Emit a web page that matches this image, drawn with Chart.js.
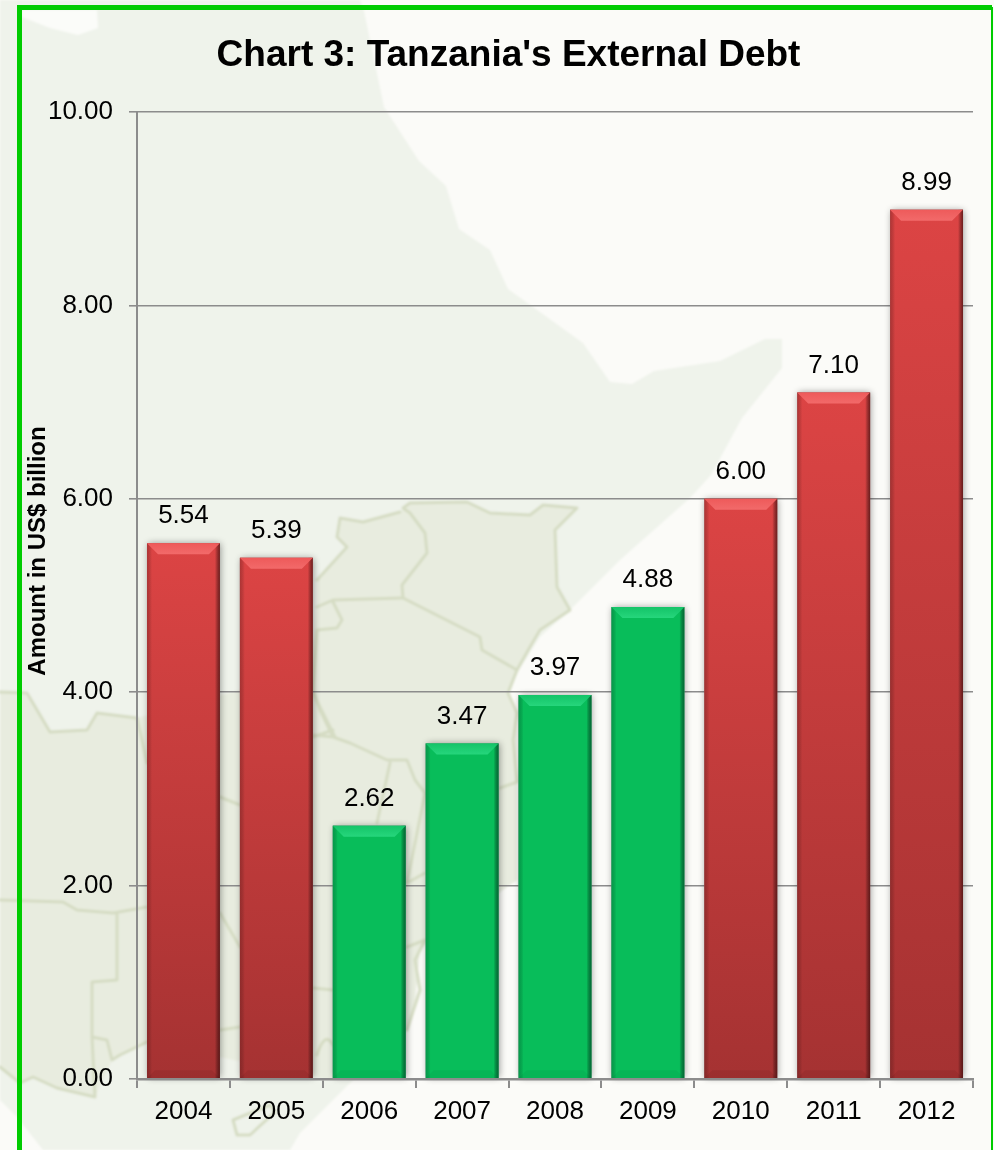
<!DOCTYPE html>
<html>
<head>
<meta charset="utf-8">
<title>Chart 3: Tanzania's External Debt</title>
<script src="https://cdn.jsdelivr.net/npm/chart.js@4"></script>
<style>
  html, body { margin: 0; padding: 0; background: #fbfbf8; }
  #wrap { position: relative; width: 994px; height: 1150px; overflow: hidden; }
  #map, #debtChart { position: absolute; left: 0; top: 0; }
  .border { fill: none; stroke: #d5dcc3; stroke-width: 3; stroke-linejoin: round; stroke-linecap: round; }
</style>
</head>
<body>
<div id="wrap">
  <!-- pale East Africa map behind the plot -->
  <svg id="map" width="994" height="1150" viewBox="0 0 994 1150">
    <defs><filter id="soft"><feGaussianBlur stdDeviation="1"/></filter></defs>
    <g filter="url(#soft)">
      <polygon fill="#eff3eb" points="0,0 360,0 364,11 384,107 419,161 446,186 459,229 490,250 508,289 583,343 610,382 632,384 654,371 720,361 765,339 782,339 782,368 742,418 711,475 690,498 620,560 570,610 540,637 517,673 508,693 517,713 517,880 500,892 440,930 420,950 415,1000 405,1030 350,1083 300,1133 290,1150 43,1150 17,1117 0,1100"/>
      <polygon fill="#fbfcf9" points="22,10 97,10 98,28 78,35 50,28 22,17"/>
      <polygon fill="#e8ecdf" points="0,692 27,693 50,732 87,730 97,713 137,718 240,690 313,640 317,607 317,580 347,547 337,537 340,518 363,522 400,512 410,503 467,502 490,513 530,515 543,505 577,508 555,530 557,587 570,610 540,630 530,647 517,670 508,693 517,713 517,880 500,892 440,930 420,950 415,1000 407,1030 330,1080 147,1042 120,1055 112,1060 95,1097 57,1088 33,1077 20,1083 0,1067"/>
      <!-- Kenya, Uganda, Tanzania -->
      <path class="border" d="M403,508 L410,503 L467,502 L490,513 L530,515 L543,505 L577,508 L555,530 L557,587 L570,610 L540,630 L530,647 L517,670 L482,650 L480,637 L403,598 L402,585 L427,553 L425,533 L410,513 Z"/>
      <path class="border" d="M402,598 L333,600 L317,607 M317,580 L347,547 L337,537 L340,518 L363,522 L400,512"/>
      <path class="border" d="M333,602 L342,620 L337,628 L317,630 L313,690 L320,710 L333,737 L350,743 L387,760 L407,760 L415,780 L425,793 M517,670 L508,693 L517,713 L513,740 L517,782 L500,788 M313,735 L333,737 M390,763 L377,823 M425,793 L407,883 M407,883 L425,873"/>
      <!-- neighbouring countries to the west and south -->
      <path class="border" d="M0,692 L27,693 L50,732 L87,730 L97,713 L137,718 L147,763"/>
      <path class="border" d="M0,900 L63,902 L77,910 L113,913 L147,907 M117,913 L117,980 L92,982 L92,1037 L107,1040 L112,1060 L120,1055 L147,1042 M92,1037 L95,1097 L57,1088 L33,1077 L20,1083 L0,1067"/>
      <path class="border" d="M220,797 L240,805 M220,913 L240,947 M220,1030 L240,1027 M313,693 L335,737 M313,737 L333,730 M313,988 L333,990 M317,1055 Q325,1030 333,1045 M407,947 L425,940 L415,960 L420,990 L407,1030"/>
      <!-- island off the coast -->
      <path class="border" d="M233,1120 L270,1105 L275,1112 L250,1135 L237,1135 Z"/>
    </g>
    <!-- green frame, open along the bottom -->
    <path d="M19.5,1150 L19.5,7.5 L992,7.5" fill="none" stroke="#00cc00" stroke-width="5"/>
    <line x1="992" y1="7" x2="992" y2="1150" stroke="#00cc00" stroke-width="2"/>
  </svg>
  <canvas id="debtChart" width="994" height="1150"></canvas>
</div>

<script>
// US$ billion, by year
const years = ['2004', '2005', '2006', '2007', '2008', '2009', '2010', '2011', '2012'];
const debtValues = [5.54, 5.39, 2.62, 3.47, 3.97, 4.88, 6.00, 7.10, 8.99];
const greenYears = ['2006', '2007', '2008', '2009'];
const yTicks = [0, 2, 4, 6, 8, 10];

const FONT = '"Liberation Sans", Arial, sans-serif';
const AXIS_GREY = '#8c8c8c';

function isGreen(i) {
  return greenYears.includes(years[i]);
}

// vertical fill per bar; green bars are almost flat
function barFill(context) {
  const i = context.dataIndex;
  const chart = context.chart;
  if (!chart.chartArea || i === undefined) return '#c83c3c';
  if (isGreen(i)) return '#08bd5a';
  const top = chart.scales.y.getPixelForValue(debtValues[i]);
  const bottom = chart.scales.y.getPixelForValue(0);
  const g = chart.ctx.createLinearGradient(0, top, 0, bottom);
  g.addColorStop(0, '#dc4444');
  g.addColorStop(1, '#a53232');
  return g;
}

// soft drop shadow under the bars
const barShadow = {
  id: 'barShadow',
  beforeDatasetsDraw(chart) {
    const ctx = chart.ctx;
    ctx.save();
    ctx.shadowColor = 'rgba(0,0,0,0.4)';
    ctx.shadowBlur = 7;
    ctx.shadowOffsetX = 1;
    ctx.fillStyle = '#888';
    chart.getDatasetMeta(0).data.forEach(bar => {
      ctx.fillRect(bar.x - bar.width / 2, bar.y, bar.width, bar.base - bar.y);
    });
    ctx.restore();
  }
};

// bevelled edges and value labels on top of each bar
const barDetails = {
  id: 'barDetails',
  afterDatasetsDraw(chart) {
    const ctx = chart.ctx;
    const bevel = 11;
    const side = 5;
    chart.getDatasetMeta(0).data.forEach((bar, i) => {
      const left = bar.x - bar.width / 2;
      const right = bar.x + bar.width / 2;
      const top = bar.y;
      const bottom = bar.base;
      const green = isGreen(i);
      ctx.save();

      // darker left and right edges
      let g = ctx.createLinearGradient(left, 0, left + side, 0);
      g.addColorStop(0, green ? 'rgba(4,90,50,0.35)' : 'rgba(70,20,20,0.3)');
      g.addColorStop(1, 'rgba(0,0,0,0)');
      ctx.fillStyle = g;
      ctx.fillRect(left, top, side, bottom - top);

      g = ctx.createLinearGradient(right - side, 0, right, 0);
      g.addColorStop(0, 'rgba(0,0,0,0)');
      g.addColorStop(1, green ? 'rgba(4,70,40,0.7)' : 'rgba(50,10,10,0.65)');
      ctx.fillStyle = g;
      ctx.fillRect(right - side, top, side, bottom - top);

      // lit trapezoid along the top
      g = ctx.createLinearGradient(0, top, 0, top + bevel);
      g.addColorStop(0, green ? '#14c468' : '#ee5a5a');
      g.addColorStop(1, green ? '#26d67c' : '#f26a6a');
      ctx.fillStyle = g;
      ctx.beginPath();
      ctx.moveTo(left, top);
      ctx.lineTo(right, top);
      ctx.lineTo(right - bevel, top + bevel);
      ctx.lineTo(left + bevel, top + bevel);
      ctx.closePath();
      ctx.fill();

      // faint darker strip along the bottom
      ctx.fillStyle = green ? 'rgba(0,70,30,0.06)' : 'rgba(40,0,0,0.08)';
      ctx.beginPath();
      ctx.moveTo(left, bottom);
      ctx.lineTo(right, bottom);
      ctx.lineTo(right - 8, bottom - 8);
      ctx.lineTo(left + 8, bottom - 8);
      ctx.closePath();
      ctx.fill();

      ctx.fillStyle = '#000';
      ctx.font = '26px ' + FONT;
      ctx.textAlign = 'center';
      ctx.textBaseline = 'middle';
      ctx.fillText(debtValues[i].toFixed(2), bar.x, top - 27);
      ctx.restore();
    });
  },
  // axis title sits above the middle of the plot, so it is placed by hand
  afterDraw(chart) {
    const ctx = chart.ctx;
    ctx.save();
    ctx.translate(38, 551);
    ctx.rotate(-Math.PI / 2);
    ctx.fillStyle = '#000';
    ctx.font = 'bold 24px ' + FONT;
    ctx.textAlign = 'center';
    ctx.textBaseline = 'middle';
    ctx.fillText('Amount in US$ billion', 0, 0);
    ctx.restore();
  }
};

new Chart(document.getElementById('debtChart').getContext('2d'), {
  type: 'bar',
  data: {
    labels: years,
    datasets: [{
      data: debtValues,
      backgroundColor: barFill,
      borderWidth: 0,
      categoryPercentage: 1,
      barPercentage: 0.785
    }]
  },
  plugins: [barShadow, barDetails],
  options: {
    responsive: false,
    animation: false,
    layout: { padding: { left: 44, right: 21, top: 0, bottom: 0 } },
    plugins: {
      legend: { display: false },
      tooltip: { enabled: false },
      title: {
        display: true,
        text: "Chart 3: Tanzania's External Debt",
        color: '#000',
        font: { family: FONT, size: 37, weight: 'bold' },
        padding: { top: 34, bottom: 33.6 }
      }
    },
    scales: {
      x: {
        afterFit(scale) { scale.height = 71; },
        grid: { drawOnChartArea: false, tickLength: 9, color: AXIS_GREY, lineWidth: 2, z: 1 },
        border: { color: AXIS_GREY, width: 2.5, z: 1 },
        ticks: { color: '#000', font: { family: FONT, size: 26 }, padding: 8, maxRotation: 0 }
      },
      y: {
        min: 0,
        max: 10,
        afterFit(scale) { scale.width = 93; },
        afterBuildTicks(scale) { scale.ticks = yTicks.map(v => ({ value: v })); },
        grid: { color: AXIS_GREY, lineWidth: 1.6, tickLength: 8 },
        border: { color: AXIS_GREY, width: 2 },
        ticks: {
          color: '#000',
          font: { family: FONT, size: 26 },
          padding: 16,
          callback: v => v.toFixed(2)
        }
      }
    }
  }
});
</script>
</body>
</html>
